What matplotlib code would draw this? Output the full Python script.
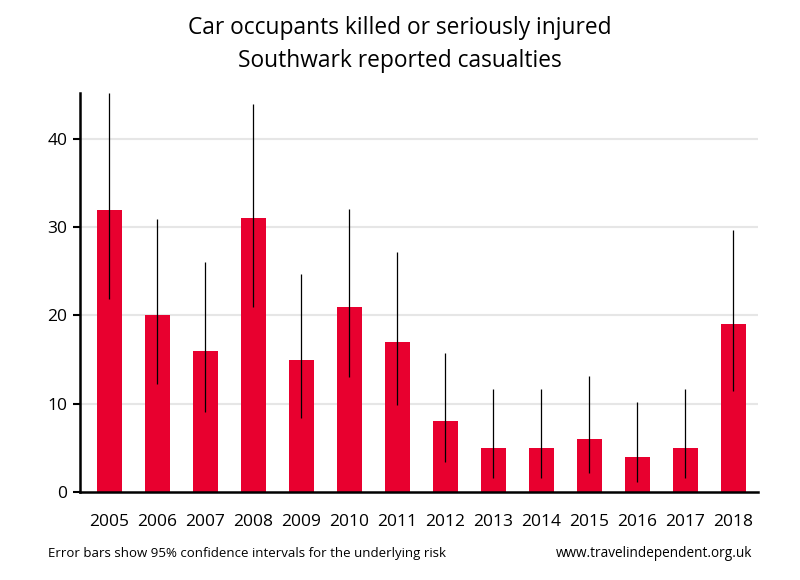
import matplotlib
matplotlib.use("Agg")
import matplotlib.pyplot as plt
import numpy as np

# Data
years = ["2005", "2006", "2007", "2008", "2009", "2010", "2011",
         "2012", "2013", "2014", "2015", "2016", "2017", "2018"]
casualties = [32, 20, 16, 31, 15, 21, 17, 8, 5, 5, 6, 4, 5, 19]
ci_low = [21.9, 12.2, 9.1, 21.0, 8.4, 13.0, 9.9, 3.45, 1.6, 1.6, 2.2, 1.1, 1.6, 11.4]
ci_high = [45.2, 30.9, 26.0, 44.0, 24.7, 32.1, 27.2, 15.8, 11.7, 11.7, 13.1, 10.2, 11.7, 29.7]

plt.rcParams['font.family'] = ['Open Sans', 'DejaVu Sans']

fig = plt.figure(figsize=(8, 5.8), dpi=100)
ax = fig.add_axes([0.1, 0.1517, 0.8475, 0.688])

x = np.arange(len(years))
vals = np.array(casualties)
err = [vals - np.array(ci_low), np.array(ci_high) - vals]

ax.bar(x, vals, width=0.52, color='#e8002f', zorder=2)
ax.errorbar(x, vals, yerr=err, fmt='none', ecolor='black', elinewidth=0.9,
            capsize=0, zorder=3)

ax.set_xlim(-0.615, 13.52)
ax.set_ylim(0, 45.2)
ax.set_yticks([0, 10, 20, 30, 40])
ax.set_xticks(x)
ax.set_xticklabels(years)

# light horizontal gridlines (not at zero)
for yv in [10, 20, 30, 40]:
    ax.axhline(yv, color='#e6e6e6', linewidth=1.5, zorder=1)

for side in ['top', 'right']:
    ax.spines[side].set_visible(False)
ax.spines['left'].set_linewidth(1.8)
ax.spines['bottom'].set_linewidth(1.8)

ax.tick_params(axis='y', direction='out', length=5, width=1.5, labelsize=12.5, pad=4)
ax.tick_params(axis='x', length=0, labelsize=12.5, pad=16)

fig.text(0.5, 0.951, "Car occupants killed or seriously injured", ha='center',
         va='center', fontsize=16.4)
fig.text(0.5, 0.895, "Southwark reported casualties", ha='center', va='center',
         fontsize=16.4)

fig.text(0.06, 0.046, "Error bars show 95% confidence intervals for the underlying risk",
         ha='left', va='center', fontsize=9.5)
fig.text(0.94, 0.046, "www.travelindependent.org.uk", ha='right', va='center',
         fontsize=9.8)

fig.savefig("out.png", dpi=100)
